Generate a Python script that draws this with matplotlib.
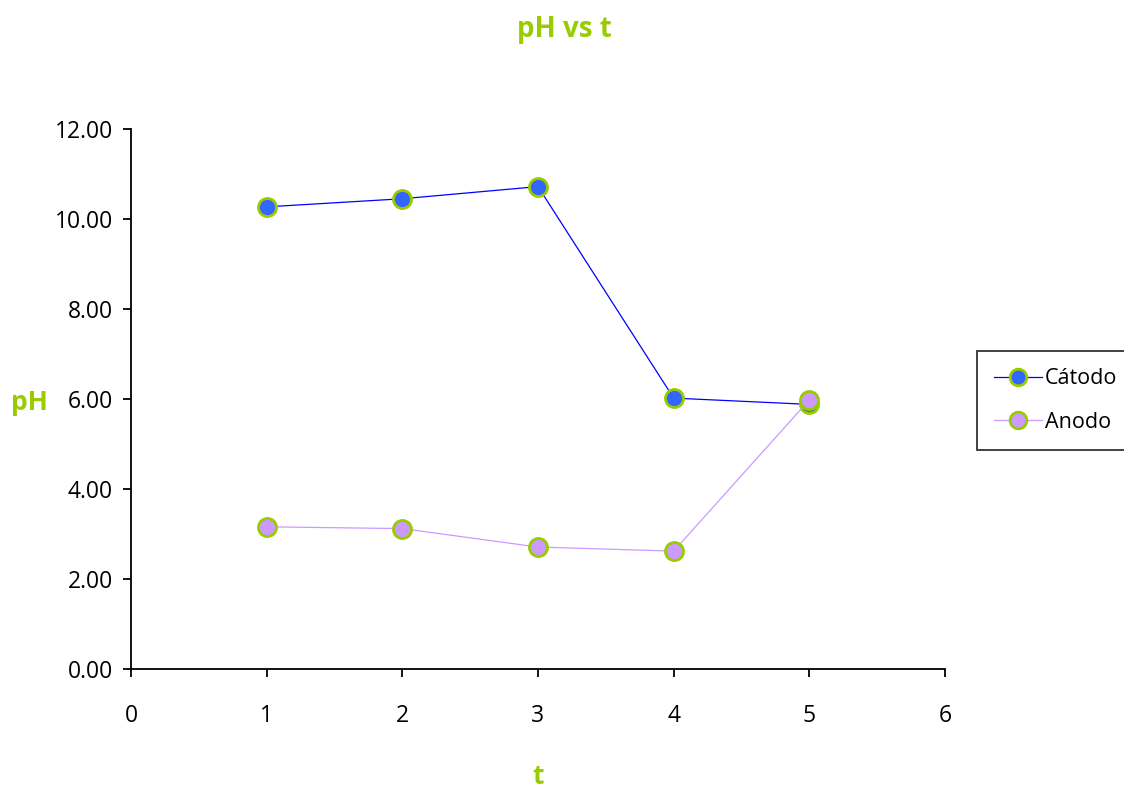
import matplotlib
matplotlib.use("Agg")
import matplotlib.pyplot as plt

t = [1, 2, 3, 4, 5]
catodo = [10.27, 10.45, 10.72, 6.02, 5.88]
anodo = [3.16, 3.12, 2.71, 2.62, 5.98]
xticks = [0, 1, 2, 3, 4, 5, 6]
yticks = [0, 2, 4, 6, 8, 10, 12]

GREEN = "#99CC00"
plt.rcParams['font.family'] = ['Open Sans', 'DejaVu Sans']

fig = plt.figure(figsize=(11.24, 7.89), dpi=100)
ax = fig.add_axes([131/1124, 1-669/789, (945-131)/1124, (669-129)/789])

ax.plot(t, catodo, color="#0000FF", lw=0.9, marker="o", ms=13,
        markerfacecolor="#3366FF", markeredgecolor=GREEN, markeredgewidth=2,
        label="Cátodo", zorder=3)
ax.plot(t, anodo, color="#CC99FF", lw=0.9, marker="o", ms=13,
        markerfacecolor="#CC99FF", markeredgecolor=GREEN, markeredgewidth=2,
        label="Anodo", zorder=4)

ax.set_xlim(0, 6)
ax.set_ylim(0, 12)
ax.set_xticks(xticks)
ax.set_xticklabels([str(v) for v in xticks])
ax.set_yticks(yticks)
ax.set_yticklabels([f"{v:.2f}" for v in yticks])
for s in ["top", "right"]:
    ax.spines[s].set_visible(False)
for s in ["left", "bottom"]:
    ax.spines[s].set_linewidth(1.3)
ax.tick_params(axis="x", direction="out", length=6, width=1.3, pad=19, labelsize=16.5)
ax.tick_params(axis="y", direction="out", length=6, width=1.3, pad=7, labelsize=16.5)

fig.text(564/1124, 1-30/789, "pH vs t", color=GREEN, fontsize=20, fontweight="bold",
         ha="center", va="center")
fig.text(538/1124, 1-776/789, "t", color=GREEN, fontsize=19, fontweight="bold",
         ha="center", va="center")
fig.text(29/1124, 1-403/789, "pH", color=GREEN, fontsize=19, fontweight="bold",
         ha="center", va="center")

leg = fig.legend(loc="upper left", bbox_to_anchor=(977/1124, 1-351/789),
                 frameon=True, fancybox=False, edgecolor="black", fontsize=15.5,
                 borderpad=0.8, labelspacing=1.05, handlelength=2.2, handletextpad=0.15,
                 borderaxespad=0)
leg.get_frame().set_linewidth(1.3)
for h in leg.legend_handles:
    h.set_markersize(12)

fig.savefig("out.png", dpi=100)
